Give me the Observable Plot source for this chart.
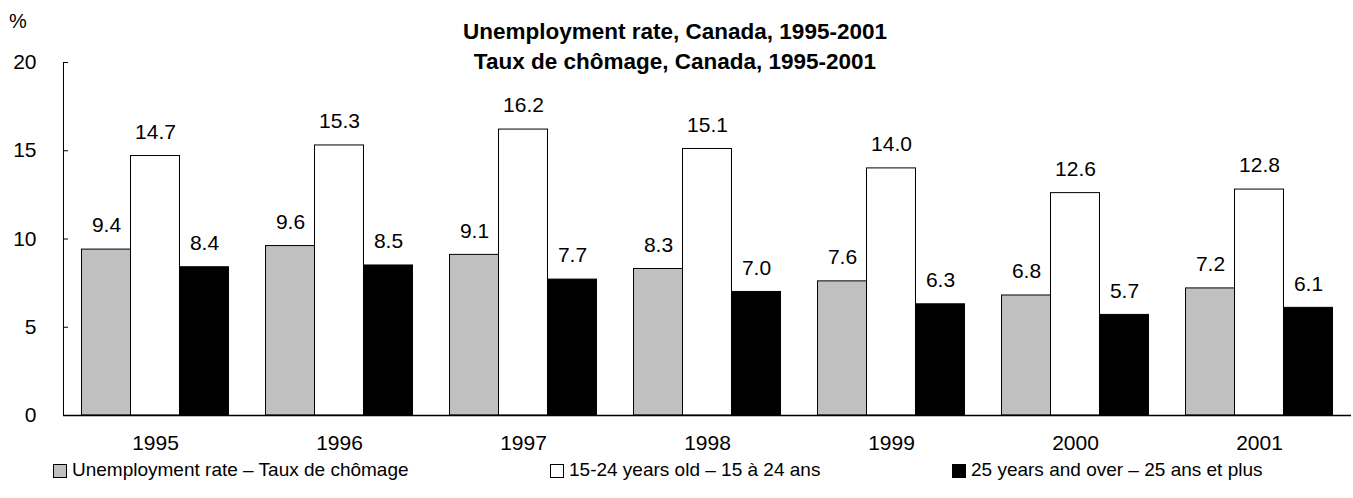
<!DOCTYPE html>
<html>
<head>
<meta charset="utf-8">
<script src="https://cdn.jsdelivr.net/npm/d3@7"></script>
<script src="https://cdn.jsdelivr.net/npm/@observablehq/plot@0.6"></script>
<style>
  html, body { margin: 0; padding: 0; background: #fff; }
  body { font-family: "Liberation Sans", Arial, sans-serif; color: #000; }
  #wrap { position: relative; width: 1353px; height: 498px; }
  #title { position: absolute; left: 325px; width: 700px; top: 17px; text-align: center;
           font-weight: bold; font-size: 22.5px; line-height: 30px; }
  #pct { position: absolute; left: 9px; top: 9px; font-size: 20px; line-height: 24px; }
  .leg { position: absolute; top: 459px; font-size: 19px; line-height: 22px; white-space: nowrap; }
  .sw { position: absolute; left: 0; top: 5px; width: 12px; height: 12px; border: 1px solid #000; box-sizing: content-box; }
  .leg span.t { position: absolute; left: 19px; top: 0; }
</style>
</head>
<body>
<div id="wrap">
  <div id="chart"></div>
  <div id="title"></div>
  <div id="pct">%</div>
  <div id="legend"></div>
</div>
<script>
const years = ["1995", "1996", "1997", "1998", "1999", "2000", "2001"];
const seriesNames = [
  "Unemployment rate – Taux de chômage",
  "15-24 years old – 15 à 24 ans",
  "25 years and over – 25 ans et plus"
];
const overallRate = [9.4, 9.6, 9.1, 8.3, 7.6, 6.8, 7.2];
const youthRate = [14.7, 15.3, 16.2, 15.1, 14.0, 12.6, 12.8];
const adultRate = [8.4, 8.5, 7.7, 7.0, 6.3, 5.7, 6.1];
const seriesColors = ["#c0c0c0", "#ffffff", "#000000"];
const yTicks = [0, 5, 10, 15, 20];
const titleLines = ["Unemployment rate, Canada, 1995-2001", "Taux de chômage, Canada, 1995-2001"];

const seriesValues = [overallRate, youthRate, adultRate];
const data = years.flatMap((yr, i) =>
  seriesNames.map((s, j) => ({ year: yr, series: s, value: seriesValues[j][i] }))
);

const chart = Plot.plot({
  width: 1353,
  height: 498,
  marginTop: 62,
  marginBottom: 83,
  marginLeft: 61,
  marginRight: 1,
  style: { fontFamily: "'Liberation Sans', Arial, sans-serif", fontSize: "21px", color: "#000", background: "transparent", overflow: "visible" },
  fx: { domain: years, padding: 0, paddingInner: 0, paddingOuter: 0, label: null, axis: "bottom", tickSize: 0, tickPadding: 20 },
  x: { domain: seriesNames, paddingInner: 0, paddingOuter: 0.378, axis: null, round: false },
  y: { domain: [0, 20], ticks: yTicks, tickSize: -5, tickPadding: 32, label: null, line: true },
  color: { domain: seriesNames, range: seriesColors },
  marks: [
    Plot.barY(data, { fx: "year", x: "series", y: "value", fill: "series", stroke: "#000", strokeWidth: 1 }),
    Plot.text(data, { fx: "year", x: "series", y: "value", text: d => d.value.toFixed(1), dy: -24, fontSize: 21, fill: "#000" }),
    Plot.ruleY([0], { stroke: "#000", strokeWidth: 1.5 })
  ]
});
document.getElementById("chart").appendChild(chart);

document.getElementById("title").innerHTML = titleLines.map(t => `<div>${t}</div>`).join("");

const legPos = [53, 550, 952];
const legend = document.getElementById("legend");
seriesNames.forEach((s, i) => {
  const d = document.createElement("div");
  d.className = "leg";
  d.style.left = legPos[i] + "px";
  d.innerHTML = `<div class="sw" style="background:${seriesColors[i]}"></div><span class="t">${s}</span>`;
  legend.appendChild(d);
});
</script>
</body>
</html>
